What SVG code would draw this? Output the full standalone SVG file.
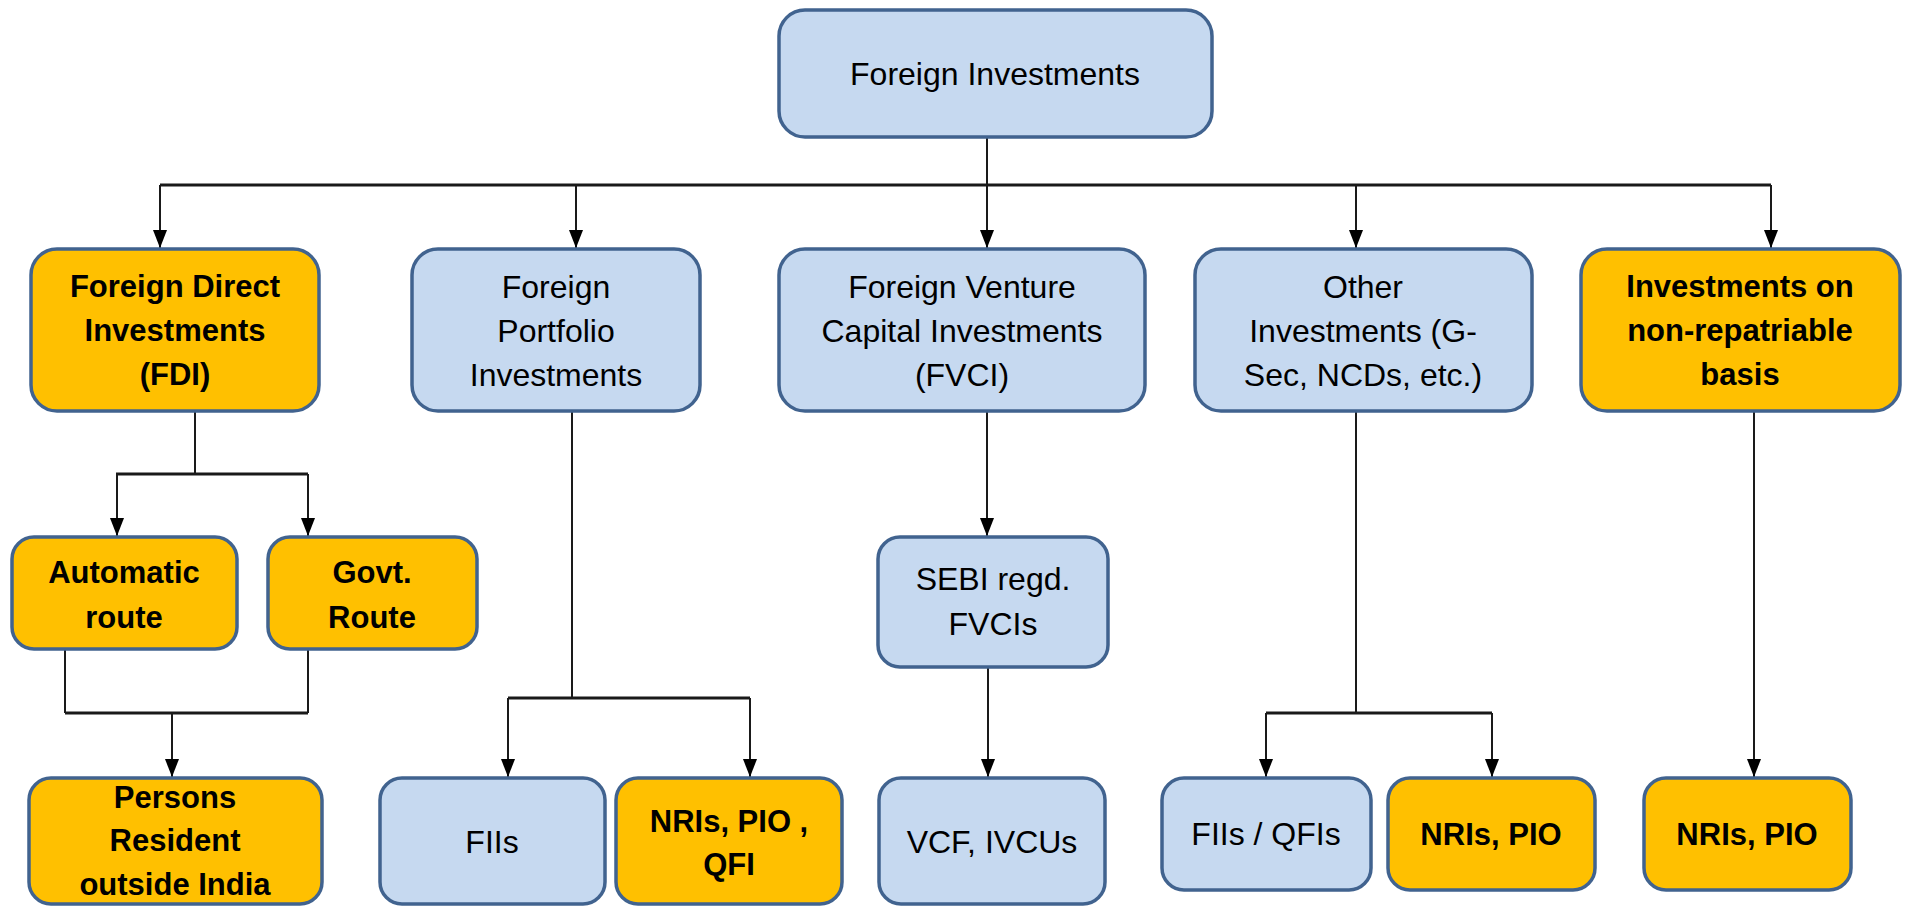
<svg xmlns="http://www.w3.org/2000/svg" width="1907" height="906" viewBox="0 0 1907 906">
<style>
.b{fill:#c6d9f0;stroke:#41638f;stroke-width:3.5}
.o{fill:#ffc000;stroke:#41638f;stroke-width:3.5}
text{font-family:"Liberation Sans",Arial,sans-serif;fill:#000;text-anchor:middle}
.r{font-size:32px}
.t{font-size:31px;font-weight:bold}
.c{fill:none;stroke:#1a1a1a;stroke-width:2}
.bus{fill:none;stroke:#1a1a1a;stroke-width:3}
</style>
<defs>
<marker id="ah" markerUnits="userSpaceOnUse" markerWidth="18" markerHeight="14" viewBox="0 0 18 14" refX="18" refY="7" orient="auto">
<path d="M0,0 L18,7 L0,14 Z" fill="#000"/>
</marker>
</defs>
<rect width="1907" height="906" fill="#fff"/>

<g id="connectors">
<path class="c" d="M987,137 V185"/>
<path class="bus" d="M160,185 H1771"/>
<path class="c" d="M160,185 V248" marker-end="url(#ah)"/>
<path class="c" d="M576,185 V248" marker-end="url(#ah)"/>
<path class="c" d="M987,185 V248" marker-end="url(#ah)"/>
<path class="c" d="M1356,185 V248" marker-end="url(#ah)"/>
<path class="c" d="M1771,185 V248" marker-end="url(#ah)"/>

<path class="c" d="M195,411 V474"/>
<path class="bus" d="M116,474 H308"/>
<path class="c" d="M117,474 V536" marker-end="url(#ah)"/>
<path class="c" d="M308,474 V536" marker-end="url(#ah)"/>

<path class="c" d="M65,649 V713"/>
<path class="c" d="M308,649 V713"/>
<path class="bus" d="M65,713 H308"/>
<path class="c" d="M172,713 V777" marker-end="url(#ah)"/>

<path class="c" d="M572,411 V698"/>
<path class="bus" d="M508,698 H750"/>
<path class="c" d="M508,698 V777" marker-end="url(#ah)"/>
<path class="c" d="M750,698 V777" marker-end="url(#ah)"/>

<path class="c" d="M987,411 V536" marker-end="url(#ah)"/>
<path class="c" d="M988,667 V777" marker-end="url(#ah)"/>

<path class="c" d="M1356,411 V713"/>
<path class="bus" d="M1266,713 H1492"/>
<path class="c" d="M1266,713 V777" marker-end="url(#ah)"/>
<path class="c" d="M1492,713 V777" marker-end="url(#ah)"/>

<path class="c" d="M1754,411 V777" marker-end="url(#ah)"/>
</g>

<g id="n-foreign-investments">
<rect class="b" x="779" y="10" width="433" height="127" rx="26"/>
<text class="r" x="995" y="85">Foreign Investments</text>
</g>

<g id="n-fdi">
<rect class="o" x="31" y="249" width="288" height="162" rx="26"/>
<text class="t" x="175" y="297">Foreign Direct</text>
<text class="t" x="175" y="341">Investments</text>
<text class="t" x="175" y="385">(FDI)</text>
</g>

<g id="n-fpi">
<rect class="b" x="412" y="249" width="288" height="162" rx="26"/>
<text class="r" x="556" y="298">Foreign</text>
<text class="r" x="556" y="342">Portfolio</text>
<text class="r" x="556" y="386">Investments</text>
</g>

<g id="n-fvci">
<rect class="b" x="779" y="249" width="366" height="162" rx="26"/>
<text class="r" x="962" y="298">Foreign Venture</text>
<text class="r" x="962" y="342">Capital Investments</text>
<text class="r" x="962" y="386">(FVCI)</text>
</g>

<g id="n-other">
<rect class="b" x="1195" y="249" width="337" height="162" rx="26"/>
<text class="r" x="1363" y="298">Other</text>
<text class="r" x="1363" y="342">Investments (G-</text>
<text class="r" x="1363" y="386">Sec, NCDs, etc.)</text>
</g>

<g id="n-nonrep">
<rect class="o" x="1581" y="249" width="319" height="162" rx="26"/>
<text class="t" x="1740" y="297">Investments on</text>
<text class="t" x="1740" y="341">non-repatriable</text>
<text class="t" x="1740" y="385">basis</text>
</g>

<g id="n-automatic">
<rect class="o" x="12" y="537" width="225" height="112" rx="22"/>
<text class="t" x="124" y="583">Automatic</text>
<text class="t" x="124" y="628">route</text>
</g>

<g id="n-govt">
<rect class="o" x="268" y="537" width="209" height="112" rx="22"/>
<text class="t" x="372" y="583">Govt.</text>
<text class="t" x="372" y="628">Route</text>
</g>

<g id="n-sebi">
<rect class="b" x="878" y="537" width="230" height="130" rx="22"/>
<text class="r" x="993" y="590">SEBI regd.</text>
<text class="r" x="993" y="635">FVCIs</text>
</g>

<g id="n-persons">
<rect class="o" x="29" y="778" width="293" height="126" rx="22"/>
<text class="t" x="175" y="808">Persons</text>
<text class="t" x="175" y="851">Resident</text>
<text class="t" x="175" y="895">outside India</text>
</g>

<g id="n-fiis">
<rect class="b" x="380" y="778" width="225" height="126" rx="22"/>
<text class="r" x="492" y="853">FIIs</text>
</g>

<g id="n-nri-qfi">
<rect class="o" x="616" y="778" width="226" height="126" rx="22"/>
<text class="t" x="729" y="832">NRIs, PIO ,</text>
<text class="t" x="729" y="875">QFI</text>
</g>

<g id="n-vcf">
<rect class="b" x="879" y="778" width="226" height="126" rx="22"/>
<text class="r" x="992" y="853">VCF, IVCUs</text>
</g>

<g id="n-fii-qfi">
<rect class="b" x="1162" y="778" width="209" height="112" rx="22"/>
<text class="r" x="1266" y="845">FIIs / QFIs</text>
</g>

<g id="n-nri-pio-1">
<rect class="o" x="1388" y="778" width="207" height="112" rx="22"/>
<text class="t" x="1491" y="845">NRIs, PIO</text>
</g>

<g id="n-nri-pio-2">
<rect class="o" x="1644" y="778" width="207" height="112" rx="22"/>
<text class="t" x="1747" y="845">NRIs, PIO</text>
</g>
</svg>
